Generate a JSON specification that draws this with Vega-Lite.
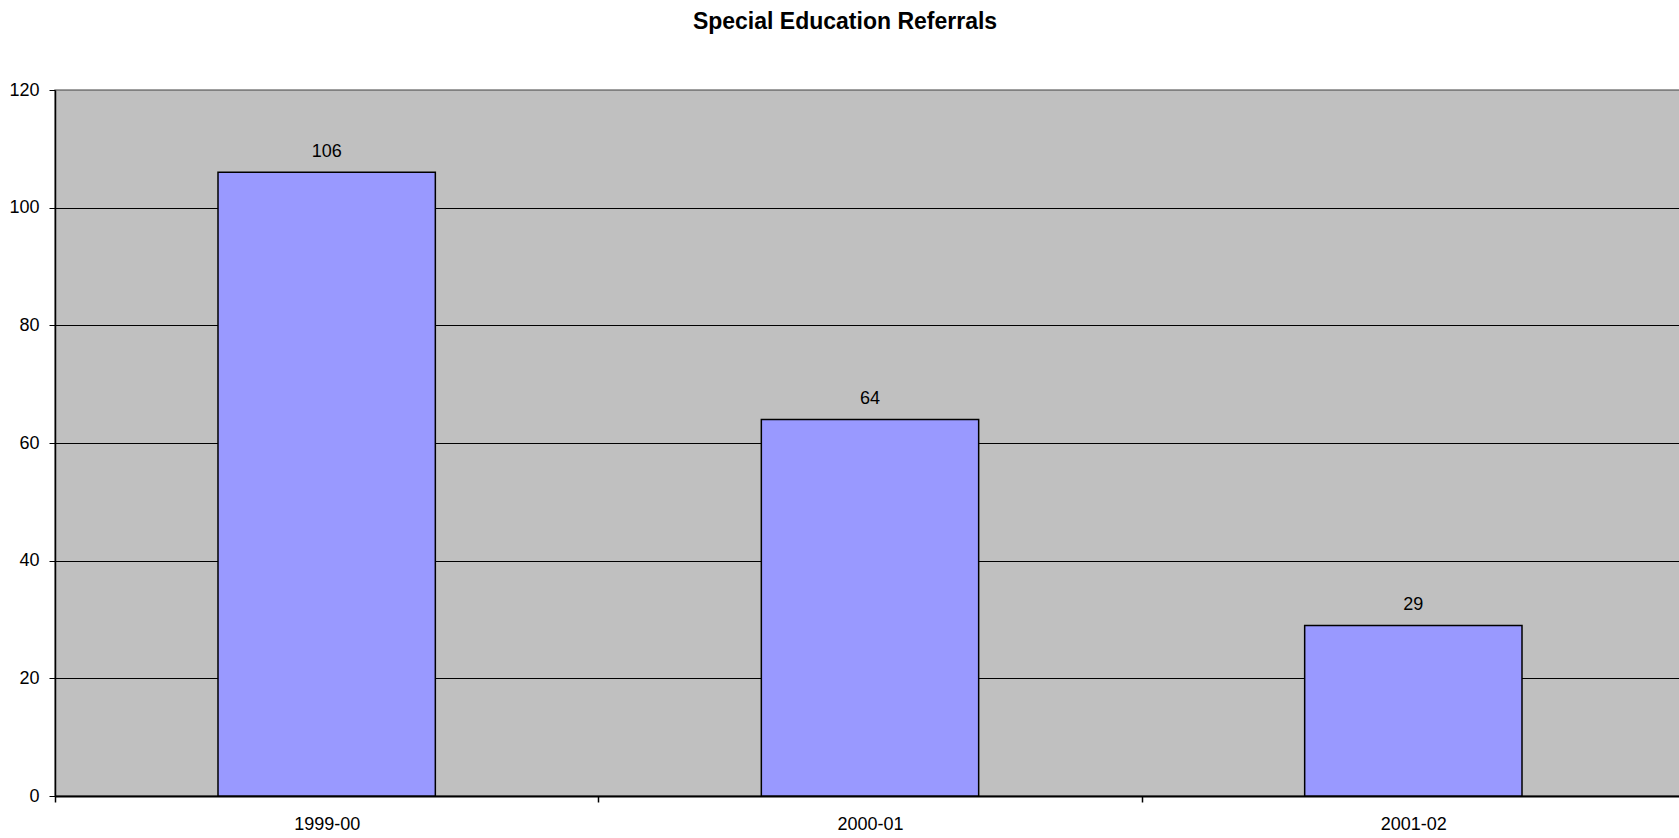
{
  "$schema": "https://vega.github.io/schema/vega-lite/v6.json",
  "autosize": "none",
  "width": 1630,
  "height": 706,
  "padding": {"left": 55, "top": 90, "right": 0, "bottom": 42},
  "background": "white",
  "title": {
    "text": "Special Education Referrals",
    "font": "Liberation Sans",
    "fontSize": 23,
    "fontWeight": "bold",
    "color": "black",
    "anchor": "middle",
    "frame": "group",
    "dx": -25,
    "offset": 47
  },
  "config": {
    "view": {"fill": "#C0C0C0", "stroke": "#808080", "strokeWidth": 1.5},
    "font": "Liberation Sans"
  },
  "data": {
    "values": [
      {"year": "1999-00", "referrals": 106},
      {"year": "2000-01", "referrals": 64},
      {"year": "2001-02", "referrals": 29}
    ]
  },
  "encoding": {
    "x": {
      "field": "year",
      "type": "nominal",
      "sort": null,
      "scale": {"paddingInner": 0, "paddingOuter": 0},
      "axis": {
        "title": null,
        "labelAngle": 0,
        "labelFont": "Liberation Sans",
        "labelFontSize": 18,
        "labelColor": "black",
        "labelPadding": 13,
        "tickBand": "extent",
        "tickSize": 6,
        "tickColor": "black",
        "tickWidth": 1.5,
        "domainColor": "black",
        "domainWidth": 2,
        "grid": false
      }
    },
    "y": {
      "field": "referrals",
      "type": "quantitative",
      "scale": {"domain": [0, 120], "nice": false},
      "axis": {
        "title": null,
        "values": [0, 20, 40, 60, 80, 100, 120],
        "labelFont": "Liberation Sans",
        "labelFontSize": 18,
        "labelColor": "black",
        "labelPadding": 10,
        "tickSize": 6,
        "tickColor": "black",
        "tickWidth": 1,
        "domainColor": "black",
        "domainWidth": 1.5,
        "grid": true,
        "gridColor": {"condition": {"test": "datum.value === 120", "value": "#808080"}, "value": "black"},
        "gridWidth": 1,
        "gridOpacity": 1
      }
    }
  },
  "layer": [
    {
      "mark": {"type": "bar", "width": {"band": 0.4}, "fill": "#9999FF", "stroke": "black", "strokeWidth": 1.5}
    },
    {
      "mark": {"type": "text", "baseline": "alphabetic", "dy": -15, "font": "Liberation Sans", "fontSize": 18, "color": "black"},
      "encoding": {"text": {"field": "referrals", "type": "quantitative"}}
    }
  ]
}
